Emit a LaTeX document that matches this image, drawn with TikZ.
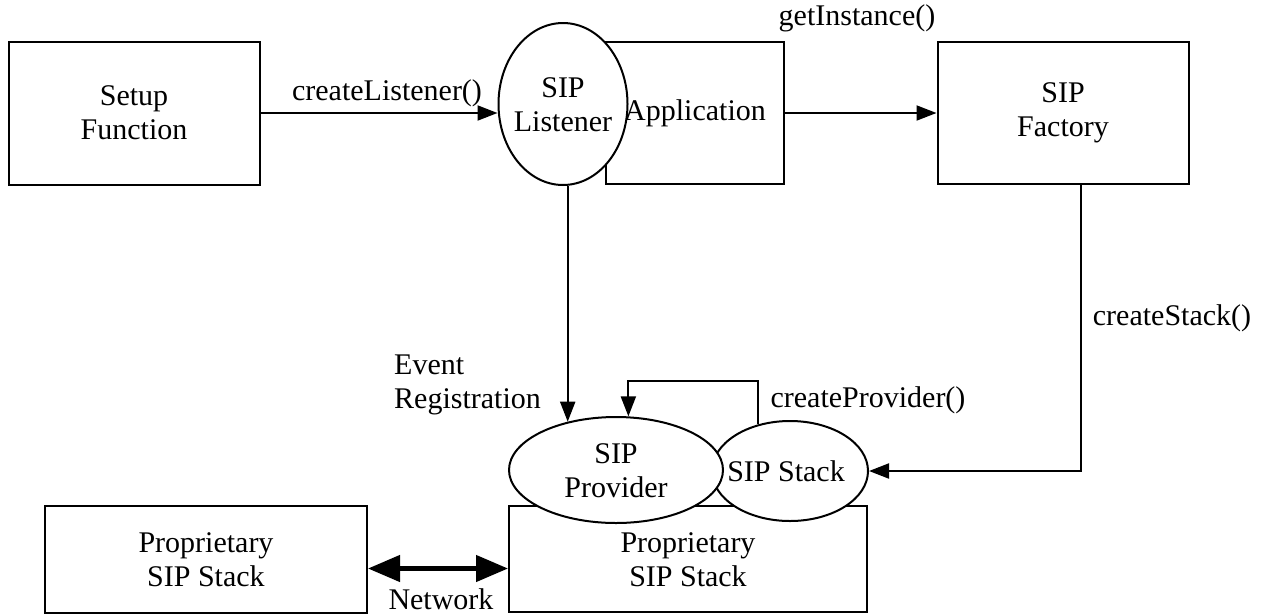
\documentclass[tikz,border=0pt]{standalone}
\usepackage{fontspec}
\setmainfont{Liberation Serif}
\usetikzlibrary{shapes.geometric,arrows.meta,calc}
\begin{document}
\begin{tikzpicture}[x=1pt,y=-1pt,
  every node/.style={font=\fontsize{30}{34}\selectfont, align=center, inner sep=0pt},
  box/.style={draw, line width=2pt, fill=white},
  oval/.style={draw, ellipse, line width=2pt, fill=white},
  arr/.style={line width=2pt, -{Triangle[length=20pt,width=15pt]}},
  netarr/.style={line width=4.5pt, {Triangle[length=32pt,width=26pt]}-{Triangle[length=32pt,width=26pt]}}]
\useasboundingbox (0,0) rectangle (1264,614);
% boxes
\node[box, minimum width=251pt, minimum height=143pt] (setup) at (134,113) {Setup\\Function};
\node[box, minimum width=178pt, minimum height=142pt] (app) at (695,113) {Application};
\node[box, minimum width=251pt, minimum height=142pt] (fac) at (1063,113) {SIP\\Factory};
\node[box, minimum width=322pt, minimum height=107pt] (lps) at (206,559.5) {Proprietary\\SIP Stack};
\node[box, minimum width=358pt, minimum height=106pt] (rps) at (688,559) {};
\node (rpst) at (688,560) {Proprietary\\SIP Stack};
% ellipses
\node[oval, minimum width=129pt, minimum height=162pt] (lis) at (563,104) {};
\node (list) at (563,105) {SIP\\Listener};
\node[oval, minimum width=156pt, minimum height=100pt] (stk) at (790,471) {};
\node[oval, minimum width=214pt, minimum height=106pt] (prov) at (616,470) {};
\node (provt) at (616,471) {SIP\\Provider};
\node (stkt) at (786,471) {SIP Stack};
% connectors
\draw[arr] (setup.east) -- (setup.east -| lis.west);
\draw[arr] (app.east) -- (app.east -| fac.west);
\draw[arr] (lis.south -| prov.135) -- (prov.135);
\draw[arr] (stk.124) -- ++(0,-43) -| (prov.77);
\draw[arr] ([xshift=18pt]fac.south) |- (stk.east);
\draw[netarr] ([yshift=-9pt]lps.east) -- ([yshift=-9pt]lps.east -| rps.west);
% labels
\node (l1) at (387,93) {createListener()};
\node (l2) at (857,18) {getInstance()};
\node (l3) at (1172,318) {createStack()};
\node (l4) at (868,400) {createProvider()};
\node[anchor=west, align=left] (l5) at (394,385) {Event\\Registration};
\node (l6) at (441,599) {Network};
\end{tikzpicture}
\end{document}
